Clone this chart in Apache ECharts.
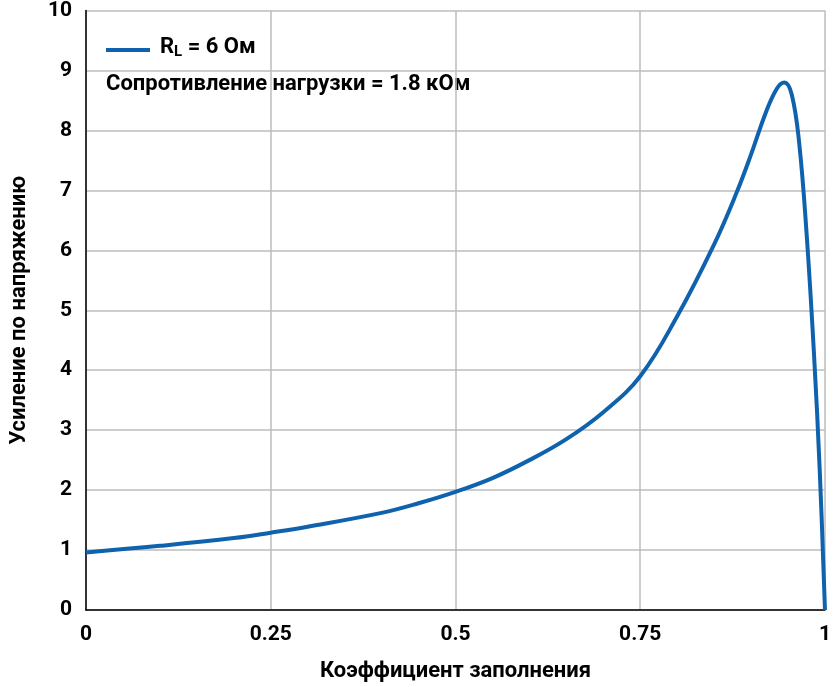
<!DOCTYPE html><html><head><meta charset="utf-8"><script src="https://cdn.jsdelivr.net/npm/echarts@6/dist/echarts.min.js"></script></head><body style="margin:0"><div id="c" style="width:834px;height:687px"></div><script>
const duty=[0,0.1,0.2,0.25,0.3,0.4,0.45,0.5,0.55,0.6,0.65,0.7,0.75,0.8,0.85,0.88,0.9,0.92,0.935,0.945,0.955,0.965,0.975,0.985,0.993,1];
const gain=[0.96,1.07,1.2,1.29,1.39,1.62,1.78,1.97,2.2,2.5,2.85,3.3,3.9,4.9,6.1,6.95,7.6,8.3,8.7,8.8,8.6,7.8,6.3,4.3,2.3,0];
const xTicks=[0,0.25,0.5,0.75,1];
const F='Roboto';
const ch=echarts.init(document.getElementById('c'));
ch.setOption({
grid:{left:76,right:5,top:8,bottom:77},
xAxis:{type:'value',min:0,max:1,interval:0.25,
 axisLabel:{color:'#000',fontFamily:F,fontWeight:'bold',fontSize:21,margin:14,formatter:v=>xTicks.includes(v)?String(v):''},
 axisLine:{lineStyle:{color:'#000',width:1.5}},axisTick:{show:false},
 splitLine:{lineStyle:{color:'#bdbdbd',width:1.5}},
 name:'Коэффициент заполнения',nameLocation:'middle',nameGap:50,nameTextStyle:{color:'#000',fontFamily:F,fontWeight:'bold',fontSize:22}},
yAxis:{type:'value',min:0,max:10,interval:1,
 axisLabel:{color:'#000',fontFamily:F,fontWeight:'bold',fontSize:21,margin:14},
 axisLine:{show:true,lineStyle:{color:'#000',width:1.5}},axisTick:{show:false},
 splitLine:{lineStyle:{color:'#bdbdbd',width:1.5}},
 name:'Усиление по напряжению',nameLocation:'middle',nameGap:56,nameTextStyle:{color:'#000',fontFamily:F,fontWeight:'bold',fontSize:22}},
series:[{type:'line',smooth:0.4,symbol:'none',data:duty.map((d,i)=>[d,gain[i]]),lineStyle:{color:'#0f62ad',width:4}}],
graphic:[
 {type:'line',shape:{x1:106,y1:50,x2:150,y2:50},style:{stroke:'#0f62ad',lineWidth:4}},
 {type:'text',left:160,top:36,style:{text:'{a|R}{s|L}{a| = 6 Ом}',rich:{a:{fontFamily:F,fontWeight:'bold',fontSize:22,fill:'#000'},s:{fontFamily:F,fontWeight:'bold',fontSize:15,fill:'#000',padding:[10,0,0,0]}}}},
 {type:'text',left:106,top:73,style:{text:'Сопротивление нагрузки = 1.8 кОм',fontFamily:F,fontWeight:'bold',fontSize:22,fill:'#000'}}
]});
</script></body></html>
